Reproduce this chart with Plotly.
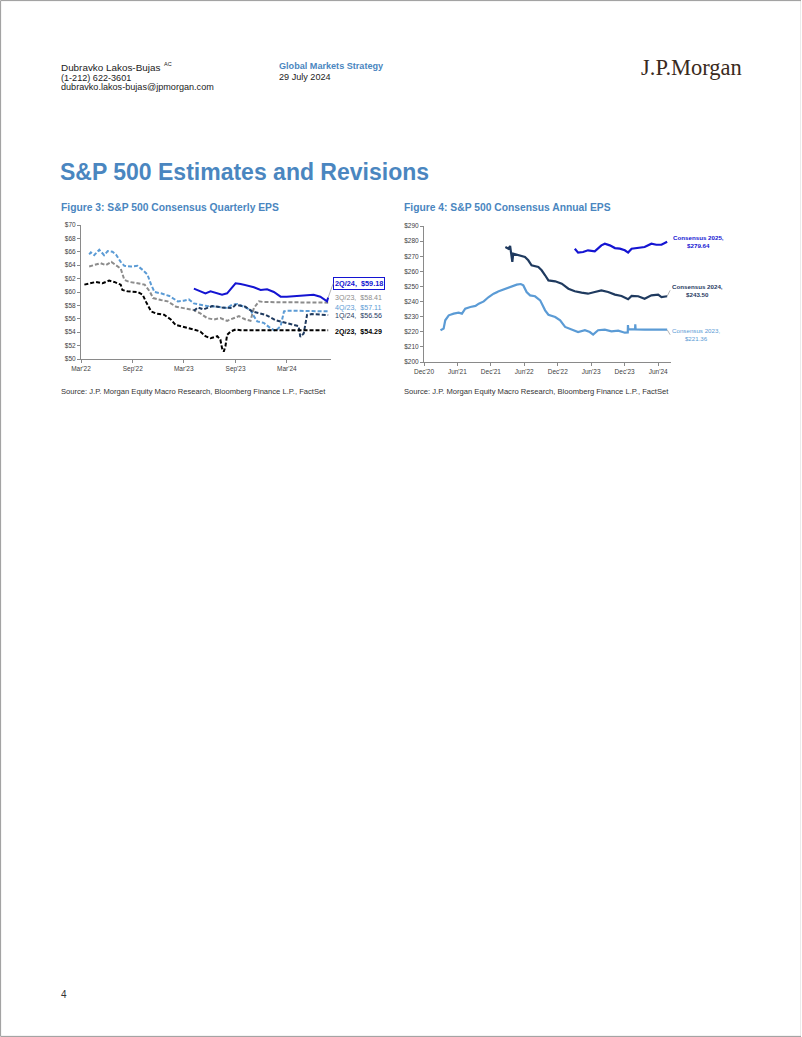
import plotly.graph_objects as go

# reference page is 802 x 1037; the photographed page is slightly scaled, so the figure is
# made a touch larger and shifted so the visible page lines up with the reference.
REF_W, REF_H = 802, 1037
SX, SY = 0.988, 0.993
W, H = round(REF_W / SX), round(REF_H / SY)
def px(x): return x / REF_W
def py(y): return 1 - y / REF_H

# ---------------- Figure 3 data: S&P 500 consensus quarterly EPS ----------------
q2_23_dates = ["2022-03-13","2022-03-30","2022-04-23","2022-05-17","2022-06-09","2022-06-27","2022-07-20","2022-07-26",
               "2022-08-13","2022-09-18","2022-10-06","2022-10-17","2022-11-05","2022-11-22","2022-12-21","2023-01-14",
               "2023-01-31","2023-02-19","2023-03-13","2023-04-06","2023-04-29","2023-05-17","2023-06-04","2023-06-28",
               "2023-07-09","2023-07-15","2023-07-21","2023-07-27","2023-08-02","2023-08-14","2023-09-01","2023-09-19","2024-07-26"]
q2_23_vals = [61.1,61.3,61.5,61.3,61.7,61.5,61.1,60.3,60.1,60.0,59.6,58.6,57.1,56.8,56.6,55.9,
              55.1,54.9,54.7,54.4,54.1,53.4,53.1,53.4,52.9,51.6,51.1,51.9,53.6,54.1,54.4,54.3,54.29]

q3_23_dates = ["2022-03-30","2022-04-17","2022-05-09","2022-05-28","2022-06-17","2022-07-03","2022-07-20","2022-08-02",
               "2022-08-20","2022-09-18","2022-10-13","2022-10-31","2022-11-12","2022-12-10","2023-01-03","2023-02-02",
               "2023-03-01","2023-04-06","2023-04-29","2023-05-23","2023-06-16","2023-07-09","2023-08-02","2023-08-26",
               "2023-09-13","2023-10-06","2023-10-24","2023-11-05","2023-11-23","2023-12-10","2024-07-26"]
q3_23_vals = [63.8,64.0,64.3,64.0,64.5,64.0,63.5,61.8,61.5,61.3,61.1,60.1,59.1,58.8,58.6,57.8,
              57.6,57.3,56.8,56.1,55.9,56.1,55.7,56.1,56.4,55.9,55.7,57.6,58.6,58.5,58.41]

q4_23_dates = ["2022-03-30","2022-04-05","2022-04-17","2022-05-05","2022-05-22","2022-06-04","2022-06-21","2022-07-03",
               "2022-07-20","2022-08-02","2022-08-25","2022-09-18","2022-10-06","2022-10-23","2022-11-05","2022-11-17",
               "2022-12-10","2023-01-09","2023-02-08","2023-03-01","2023-03-19","2023-04-06","2023-04-29","2023-05-23",
               "2023-06-28","2023-08-02","2023-08-20","2023-09-07","2023-09-30","2023-10-24","2023-11-05","2023-11-17",
               "2023-12-10","2024-01-03","2024-01-21","2024-02-08","2024-02-20","2024-03-01","2024-03-25","2024-07-26"]
q4_23_vals = [65.6,65.9,65.5,66.3,65.5,66.1,66.0,65.6,64.5,63.9,63.8,63.9,63.3,62.6,61.1,60.0,
              59.8,59.4,58.6,58.7,58.9,58.3,58.1,57.9,57.8,57.6,58.1,58.2,57.8,57.3,56.4,55.6,
              55.4,54.6,54.2,54.9,57.1,57.2,57.2,57.11]

q1_24_dates = ["2023-04-06","2023-04-20","2023-05-10","2023-06-10","2023-07-15","2023-08-20","2023-09-01","2023-10-06",
               "2023-10-30","2023-11-17","2023-12-16","2024-01-21","2024-02-26","2024-04-12","2024-04-18","2024-04-30",
               "2024-05-12","2024-05-29","2024-07-26"]
q1_24_vals = [57.2,57.7,57.4,57.9,57.7,57.6,58.1,57.8,57.1,56.9,56.6,55.8,55.4,54.9,53.3,53.8,56.6,56.7,56.56]

q2_24_dates = ["2023-04-06","2023-04-29","2023-05-17","2023-06-04","2023-06-28","2023-07-15","2023-08-02","2023-08-20",
               "2023-09-01","2023-09-19","2023-10-12","2023-11-05","2023-11-29","2023-12-22","2024-01-15","2024-02-08",
               "2024-03-01","2024-03-25","2024-04-18","2024-05-12","2024-06-04","2024-06-28","2024-07-16","2024-07-22","2024-07-26"]
q2_24_vals = [60.5,60.1,59.8,60.1,59.8,59.6,59.8,60.8,61.3,61.2,61.0,60.7,60.3,60.4,60.0,59.3,
              59.3,59.4,59.5,59.6,59.6,59.3,58.8,58.6,59.18]

fig3_ticks = ["2022-03-01","2022-09-01","2023-03-01","2023-09-01","2024-03-01"]
fig3_ticktext = ["Mar'22","Sep'22","Mar'23","Sep'23","Mar'24"]
fig3_yticks = [50,52,54,56,58,60,62,64,66,68,70]

# ---------------- Figure 4 data: S&P 500 consensus annual EPS ----------------
eps23_dates = ["2021-03-01","2021-03-18","2021-03-27","2021-04-15","2021-05-12","2021-06-08","2021-06-26","2021-07-14",
               "2021-08-11","2021-09-08","2021-09-26","2021-10-23","2021-11-19","2021-12-16","2022-01-13","2022-02-18",
               "2022-03-24","2022-04-21","2022-05-13","2022-05-27","2022-06-14","2022-07-03","2022-07-30","2022-08-27",
               "2022-09-23","2022-10-11","2022-11-17","2022-12-14","2023-01-10","2023-02-16","2023-03-22","2023-04-28",
               "2023-05-25","2023-06-12","2023-07-09","2023-08-15","2023-09-20","2023-10-27","2023-12-02","2023-12-18",
               "2023-12-19","2023-12-21","2024-01-27","2024-01-28","2024-01-30","2024-03-19","2024-07-20"]
eps23_vals = [221.0,222.1,227.6,230.9,232.0,232.6,232.0,235.3,236.4,237.1,238.6,240.1,243.0,245.2,246.8,248.5,
              250.3,251.2,251.6,250.7,246.3,244.1,243.5,240.8,234.2,231.3,229.8,227.6,223.2,221.4,219.8,221.0,
              219.8,218.1,221.0,221.4,220.3,220.7,219.4,219.6,224.5,221.6,221.6,225.0,221.6,221.4,221.36]

eps24_dates = ["2022-02-18","2022-03-07","2022-03-16","2022-03-21","2022-03-28","2022-04-02","2022-04-30","2022-06-05",
               "2022-06-23","2022-07-11","2022-08-17","2022-09-04","2022-09-23","2022-10-11","2022-11-17","2022-12-23",
               "2023-01-28","2023-03-04","2023-04-10","2023-05-15","2023-06-21","2023-07-27","2023-09-02","2023-10-09",
               "2023-11-14","2023-12-20","2024-01-08","2024-02-13","2024-03-19","2024-04-25","2024-06-01","2024-06-19","2024-07-20"]
eps24_vals = [276.1,275.0,276.8,270.6,266.2,271.7,270.6,269.5,267.3,264.0,262.9,260.7,257.4,254.0,253.4,251.8,
              248.5,246.8,245.9,245.2,246.3,247.4,246.3,244.6,243.7,241.5,243.7,243.5,241.9,244.1,244.6,243.0,243.5]

eps25_dates = ["2023-03-04","2023-03-22","2023-04-18","2023-05-15","2023-06-21","2023-07-09","2023-07-27","2023-08-15",
               "2023-09-11","2023-10-09","2023-11-05","2023-12-02","2023-12-20","2024-01-08","2024-02-13","2024-03-19",
               "2024-04-25","2024-05-22","2024-06-19","2024-07-20"]
eps25_vals = [275.0,272.4,272.8,273.9,273.2,275.0,277.2,278.3,277.2,275.4,275.0,273.9,272.4,275.0,275.7,276.1,
              278.3,277.6,277.6,279.6]

fig4_ticks = ["2020-12-01","2021-06-01","2021-12-01","2022-06-01","2022-12-01","2023-06-01","2023-12-01","2024-06-01"]
fig4_ticktext = ["Dec'20","Jun'21","Dec'21","Jun'22","Dec'22","Jun'23","Dec'23","Jun'24"]
fig4_yticks = [200,210,220,230,240,250,260,270,280,290]

# ---------------- styles ----------------
C_BLUE = "#1414D2"
C_GRAY = "#8C8C8C"
C_LBLUE = "#5B9BD5"
C_NAVY = "#1F3A5F"
C_BLACK = "#000000"
C_TITLE = "#4A86C0"
FONT = "Liberation Sans, Arial, sans-serif"
NARROW = "Liberation Sans Narrow, Arial Narrow, Liberation Sans, Arial, sans-serif"
DASH = "4px,2px"

fig = go.Figure()

def add(x, y, color, dash, xa, ya, width=2):
    fig.add_trace(go.Scatter(x=x, y=y, mode="lines", xaxis=xa, yaxis=ya, showlegend=False,
                             line=dict(color=color, width=width, dash=dash, shape="linear"),
                             hoverinfo="skip"))

add(q3_23_dates, q3_23_vals, C_GRAY, DASH, "x", "y")
add(q4_23_dates, q4_23_vals, C_LBLUE, DASH, "x", "y")
add(q1_24_dates, q1_24_vals, C_NAVY, DASH, "x", "y")
add(q2_23_dates, q2_23_vals, C_BLACK, DASH, "x", "y")
add(q2_24_dates, q2_24_vals, C_BLUE, None, "x", "y")

add(eps23_dates, eps23_vals, C_LBLUE, None, "x2", "y2", 2.2)
add(eps24_dates, eps24_vals, C_NAVY, None, "x2", "y2", 2.2)
add(eps25_dates, eps25_vals, C_BLUE, None, "x2", "y2", 2.2)

axis_common = dict(showgrid=False, zeroline=False, showline=True, linecolor="#8A8A8A", linewidth=1,
                   ticks="outside", ticklen=3, tickcolor="#8A8A8A",
                   tickfont=dict(family=FONT, size=6.5, color="#404040"))

fig.update_layout(
    width=W, height=H, margin=dict(l=0, r=0, t=0, b=0), autosize=False,
    paper_bgcolor="white", plot_bgcolor="white", showlegend=False,
    xaxis=dict(domain=[px(82), px(332)], range=["2022-03-01", "2024-08-05"], type="date",
               tickmode="array", tickvals=fig3_ticks, ticktext=fig3_ticktext, anchor="y", **axis_common),
    yaxis=dict(domain=[py(359), py(225)], range=[50, 70], tickmode="array", tickvals=fig3_yticks,
               ticktext=["$%d" % v for v in fig3_yticks], anchor="x", **axis_common),
    xaxis2=dict(domain=[px(425), px(672)], range=["2020-12-01", "2024-08-10"], type="date",
                tickmode="array", tickvals=fig4_ticks, ticktext=fig4_ticktext, anchor="y2", **axis_common),
    yaxis2=dict(domain=[py(362), py(226)], range=[200, 290], tickmode="array", tickvals=fig4_yticks,
                ticktext=["$%d" % v for v in fig4_yticks], anchor="x2", **axis_common),
)

ann = []
def ptext(x, y, text, size, color="#222222", bold=False, family=FONT, xanchor="left", yanchor="middle"):
    if bold:
        text = "<b>%s</b>" % text
    ann.append(dict(x=px(x), y=py(y), xref="paper", yref="paper", text=text, showarrow=False,
                    xanchor=xanchor, yanchor=yanchor, font=dict(family=family, size=size, color=color)))

# header
ptext(60, 67, "Dubravko Lakos-Bujas", 9.9)
ptext(163, 63.5, "AC", 5.5)
ptext(60, 77.5, "(1-212) 622-3601", 9.1)
ptext(60, 87.5, "dubravko.lakos-bujas@jpmorgan.com", 9.1)
ptext(278, 66, "Global Markets Strategy", 9.1, color=C_TITLE, bold=True)
ptext(278, 77, "29 July 2024", 9.1)
ptext(640, 68, "J.P.Morgan", 22.5, color="#3A2A20", family="Liberation Serif, Times New Roman, serif")

# titles
ptext(59, 172, "S&P 500 Estimates and Revisions", 23, color=C_TITLE, bold=True)
ptext(60, 208, "Figure 3: S&P 500 Consensus Quarterly EPS", 10.3, color=C_TITLE, bold=True)
ptext(403, 208, "Figure 4: S&P 500 Consensus Annual EPS", 10.3, color=C_TITLE, bold=True)

# sources
ptext(60, 391, "Source: J.P. Morgan Equity Macro Research, Bloomberg Finance L.P., FactSet", 7.6, color="#333333")
ptext(403, 391, "Source: J.P. Morgan Equity Macro Research, Bloomberg Finance L.P., FactSet", 7.6, color="#333333")
ptext(60, 994, "4", 10, color="#333333")

# series labels, figure 3
last = "2024-07-26"
ann.append(dict(x=last, y=q2_24_vals[-1], xref="x", yref="y", text="<b>2Q/24,  $%.2f</b>" % q2_24_vals[-1],
                showarrow=True, arrowhead=0, arrowwidth=0.8, arrowcolor="#A0A0A0", ax=5, ay=-14,
                xanchor="left", yanchor="middle", bordercolor=C_BLUE, borderwidth=1, borderpad=1,
                bgcolor="white", font=dict(family=NARROW, size=7.3, color=C_BLUE)))
def slabel(val, text, color, yshift, bold=False):
    t = "<b>%s</b>" % text if bold else text
    ann.append(dict(x=last, y=val, xref="x", yref="y", text=t, showarrow=False, xanchor="left",
                    yanchor="middle", xshift=5, yshift=yshift, font=dict(family=NARROW, size=7.1, color=color)))
slabel(q3_23_vals[-1], "3Q/23,  $%.2f" % q3_23_vals[-1], C_GRAY, 5)
slabel(q4_23_vals[-1], "4Q/23,  $%.2f" % q4_23_vals[-1], C_LBLUE, 3)
slabel(q1_24_vals[-1], "1Q/24,  $%.2f" % q1_24_vals[-1], C_NAVY, -1)
slabel(q2_23_vals[-1], "2Q/23,  $%.2f" % q2_23_vals[-1], C_BLACK, -2, bold=True)

# series labels, figure 4
last2 = "2024-07-20"
ann.append(dict(x=last2, y=eps25_vals[-1], xref="x2", yref="y2",
                text="<b>Consensus 2025,<br>$%.2f</b>" % 279.64, showarrow=False, xanchor="left",
                yanchor="middle", xshift=4, align="center", font=dict(family=NARROW, size=6.2, color=C_BLUE)))
ann.append(dict(x=last2, y=eps24_vals[-1], xref="x2", yref="y2",
                text="<b>Consensus 2024,<br>$%.2f</b>" % eps24_vals[-1], showarrow=True, arrowhead=0,
                arrowwidth=0.8, arrowcolor="#A0A0A0", ax=3, ay=-6, xanchor="left", yanchor="middle",
                align="center", font=dict(family=NARROW, size=6.2, color=C_NAVY)))
ann.append(dict(x=last2, y=eps23_vals[-1], xref="x2", yref="y2",
                text="Consensus 2023,<br>$%.2f" % eps23_vals[-1], showarrow=True, arrowhead=0,
                arrowwidth=0.8, arrowcolor="#A0A0A0", ax=3, ay=5, xanchor="left", yanchor="middle",
                align="center", font=dict(family=NARROW, size=6.2, color=C_LBLUE)))

fig.update_layout(annotations=ann)
fig.add_shape(type="rect", xref="paper", yref="paper", x0=px(1.6), y0=py(1036.4), x1=px(802.3), y1=py(0.6),
              line=dict(color="#9A9A9A", width=1))

POST = ("document.documentElement.style.margin='0px';document.body.style.margin='0px';"
        "document.body.style.padding='0px';document.body.style.overflow='hidden';"
        "var d=document.getElementsByClassName('plotly-graph-div')[0];"
        "d.style.position='fixed';d.style.left='-11.2px';d.style.top='-4.5px';")
fig.write_html("out.html", config={"responsive": False, "displayModeBar": False}, post_script=POST)
